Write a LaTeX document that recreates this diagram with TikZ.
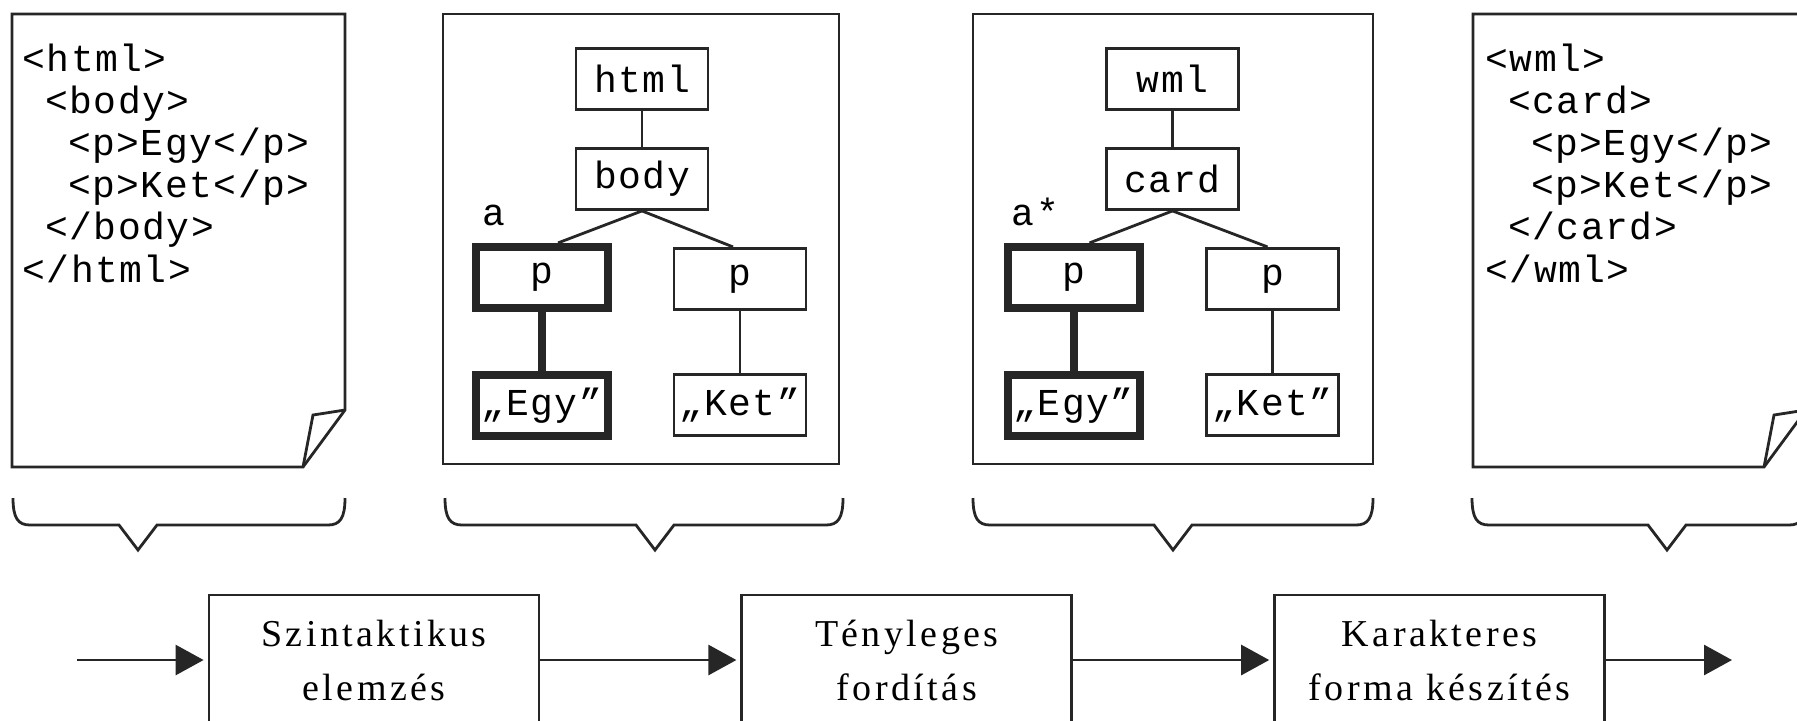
\documentclass[tikz,border=0pt]{standalone}
\usepackage{fontspec}
\usepackage{xcolor}
\usetikzlibrary{arrows.meta, positioning}

\newfontfamily\codefont[LetterSpace=4]{Liberation Mono}
\newfontfamily\procfont[LetterSpace=9]{Liberation Serif}
\definecolor{ink}{HTML}{262626}
\newcommand{\ind}{\phantom{x}}
% brace under a page: left end, point, right end
\newcommand{\pagebrace}[3]{%
  \draw[link] (#1,498) .. controls (#1,518) and (#1+5,525) .. (#1+17,525)
    -- (#2-19,525) -- (#2,550) -- (#2+19,525) -- (#3-17,525)
    .. controls (#3-5,525) and (#3,518) .. (#3,498);}

\begin{document}
\begin{tikzpicture}[
    x=0.5pt, y=-0.5pt,
    frame/.style={draw=ink, line width=1.4pt},
    link/.style={draw=ink, line width=1.4pt},
    hotlink/.style={draw=ink, line width=4pt},
    codeline/.style={anchor=base west, inner sep=0pt, font=\codefont\fontsize{19}{22}\selectfont},
    treebox/.style={rectangle, draw=ink, line width=1.4pt, minimum width=66pt,
                    minimum height=30.5pt, inner sep=0pt, font=\codefont\fontsize{19}{22}\selectfont},
    hotbox/.style={treebox, line width=4pt},
    procbox/.style={rectangle, draw=ink, line width=1.4pt, minimum width=165pt,
                    minimum height=65pt, align=center, font=\procfont\fontsize{19}{27}\selectfont},
    flow/.style={draw=ink, line width=1.4pt, -{Triangle[length=14pt, width=15pt]}, shorten >=2pt}
]

\useasboundingbox (0,0) rectangle (1797,720);
\clip (0,0) rectangle (1797,720);

% html source page
\draw[frame] (12,14) -- (345,14) -- (345,410) -- (303,467) -- (12,467) -- cycle;
\draw[frame] (345,410) -- (313,415) -- (303,467);
\foreach \t [count=\i] in {<html>, \ind<body>, \ind\ind<p>Egy</p>, \ind\ind<p>Ket</p>, \ind</body>, </html>}
    \node[codeline] (Src\i) at (22,{71+42.2*(\i-1)}) {\t};

% html tree
\draw[frame] (443,14) rectangle (839,464);
\node[treebox] (Html) at (642,78.7) {html};
\node[treebox] (Body) [below=18.25pt of Html] {body};
\node[hotbox] (ParaA) [below=16pt of Body, xshift=-50pt] {p};
\node[treebox] (ParaB) [below=18pt of Body, xshift=49pt] {p};
\node[hotbox] (TextA) [below=29.5pt of ParaA] {„Egy”};
\node[treebox] (TextB) [below=31pt of ParaB] {„Ket”};
\node[codeline] (MarkA) [above right=8.5pt and 5pt of ParaA.north west] {a};

\draw[link] (Html) -- (Body);
\draw[link] (Body.south) -- ([xshift=8pt]ParaA.north);
\draw[link] (Body.south) -- ([xshift=-3.5pt]ParaB.north);
\draw[hotlink] (ParaA) -- (TextA);
\draw[link] (ParaB) -- (TextB);

% wml tree
\draw[frame] (973,14) rectangle (1373,464);
\node[treebox] (Wml) at (1172.5,78.7) {wml};
\node[treebox] (Card) [below=18.25pt of Wml] {card};
\node[hotbox] (ParaC) [below=16pt of Card, xshift=-49.5pt] {p};
\node[treebox] (ParaD) [below=18pt of Card, xshift=50pt] {p};
\node[hotbox] (TextC) [below=29.5pt of ParaC] {„Egy”};
\node[treebox] (TextD) [below=31pt of ParaD] {„Ket”};
\node[codeline] (MarkC) [above right=8.5pt and 4pt of ParaC.north west] {a*};

\draw[link] (Wml) -- (Card);
\draw[link] (Card.south) -- ([xshift=8pt]ParaC.north);
\draw[link] (Card.south) -- ([xshift=-2.5pt]ParaD.north);
\draw[hotlink] (ParaC) -- (TextC);
\draw[link] (ParaD) -- (TextD);

% wml result page
\draw[frame] (1473,14) -- (1806,14) -- (1806,410) -- (1764,467) -- (1473,467) -- cycle;
\draw[frame] (1806,410) -- (1774,415) -- (1764,467);
\foreach \t [count=\i] in {<wml>, \ind<card>, \ind\ind<p>Egy</p>, \ind\ind<p>Ket</p>, \ind</card>, </wml>}
    \node[codeline] (Dst\i) at (1485,{71+42.2*(\i-1)}) {\t};

% braces
\pagebrace{13}{138}{345}
\pagebrace{445}{655}{843}
\pagebrace{973}{1173}{1373}
\pagebrace{1472}{1667}{1806}

% processing steps
\node[procbox] (Parse) at (374,660) {Szintaktikus\\elemzés};
\node[procbox] (Translate) [right=100pt of Parse] {Tényleges\\fordítás};
\node[procbox] (Render) [right=100pt of Translate] {Karakteres\\forma készítés};
\coordinate (In) at (77,660);
\coordinate (Out) at (1736,660);

\draw[flow] (In) -- (Parse);
\draw[flow] (Parse) -- (Translate);
\draw[flow] (Translate) -- (Render);
\draw[flow] (Render) -- (Out);

\end{tikzpicture}
\end{document}
